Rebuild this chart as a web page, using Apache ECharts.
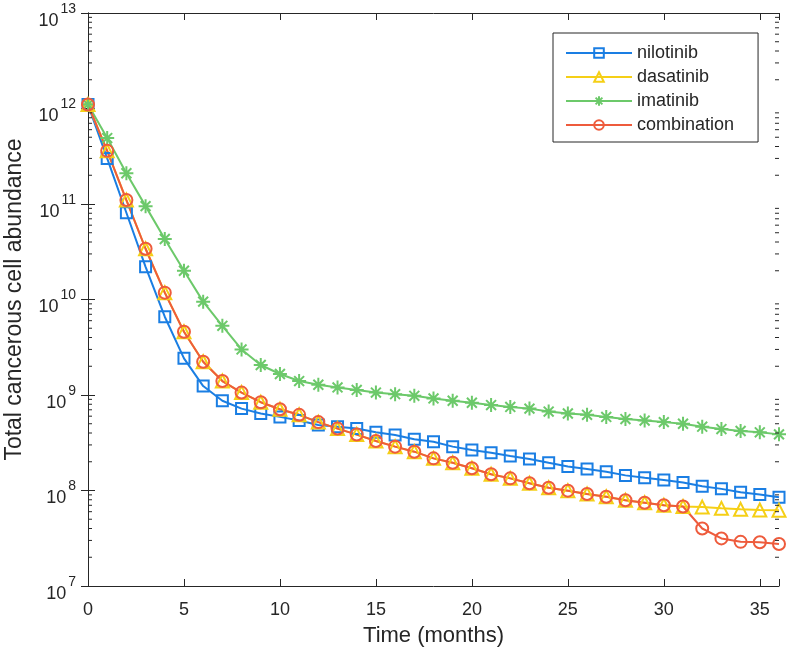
<!DOCTYPE html>
<html>
<head>
<meta charset="utf-8">
<script src="https://cdn.jsdelivr.net/npm/echarts@6/dist/echarts.min.js"></script>
<style>html,body{margin:0;padding:0;background:#fff}#chart{width:792px;height:652px}</style>
</head>
<body>
<div id="chart"></div>
<script>
var months = [0,1,2,3,4,5,6,7,8,9,10,11,12,13,14,15,16,17,18,19,20,21,22,23,24,25,26,27,28,29,30,31,32,33,34,35,36];
var nilotinib = [1.1e12,3.0e11,8.1e10,2.2e10,6.6e9,2.42e9,1.24e9,8.7e8,7.2e8,6.4e8,5.9e8,5.4e8,4.85e8,4.66e8,4.45e8,4.07e8,3.81e8,3.44e8,3.24e8,2.88e8,2.66e8,2.49e8,2.30e8,2.14e8,1.95e8,1.78e8,1.68e8,1.57e8,1.44e8,1.36e8,1.29e8,1.21e8,1.11e8,1.04e8,9.6e7,9.1e7,8.5e7];
var dasatinib = [1.1e12,3.6e11,1.1e11,3.4e10,1.18e10,4.6e9,2.23e9,1.40e9,1.06e9,8.4e8,7.1e8,6.2e8,5.2e8,4.45e8,3.85e8,3.3e8,2.88e8,2.55e8,2.17e8,1.95e8,1.71e8,1.48e8,1.34e8,1.19e8,1.07e8,9.96e7,9.2e7,8.6e7,7.9e7,7.45e7,7.0e7,6.8e7,6.7e7,6.5e7,6.35e7,6.25e7,6.2e7];
var imatinib = [1.1e12,4.9e11,2.1e11,9.5e10,4.3e10,2.0e10,9.5e9,5.3e9,3.0e9,2.06e9,1.66e9,1.40e9,1.28e9,1.20e9,1.13e9,1.06e9,1.02e9,9.8e8,9.2e8,8.7e8,8.3e8,7.85e8,7.5e8,7.2e8,6.7e8,6.4e8,6.2e8,5.9e8,5.6e8,5.4e8,5.2e8,5.0e8,4.66e8,4.4e8,4.2e8,4.07e8,3.87e8];
var combination = [1.1e12,3.6e11,1.1e11,3.4e10,1.18e10,4.6e9,2.23e9,1.40e9,1.06e9,8.4e8,7.1e8,6.2e8,5.2e8,4.45e8,3.85e8,3.3e8,2.88e8,2.55e8,2.17e8,1.95e8,1.71e8,1.48e8,1.34e8,1.19e8,1.07e8,9.96e7,9.2e7,8.6e7,7.9e7,7.45e7,7.0e7,6.8e7,4.0e7,3.15e7,2.9e7,2.87e7,2.75e7];
var seriesNames = ['nilotinib','dasatinib','imatinib','combination'];
var xTitle = 'Time (months)';
var yTitle = 'Total cancerous cell abundance';
var minorMultipliers = [2,3,4,5,6,7,8,9];
var decades = [1e7,1e8,1e9,1e10,1e11,1e12];

var FONT = '"Liberation Sans", Arial, Helvetica, sans-serif';
var AX = '#262626';
var colors = ['#1a7ee3','#f5cf16','#6cc96a','#ee5b3c'];
var asterisk = 'path://M0,-10L0,10M-10,0L10,0M-7.07,-7.07L7.07,7.07M-7.07,7.07L7.07,-7.07';
var symbols = ['rect','triangle',asterisk,'circle'];
var symSizes = [11,13,14,12];
var datasets = [nilotinib,dasatinib,imatinib,combination];

function pairs(arr){ return months.map(function(m,i){ return [m, arr[i]]; }); }

var minorVals = [];
decades.forEach(function(d){ minorMultipliers.forEach(function(k){ minorVals.push([0, k*d]); }); });

var series = seriesNames.map(function(n,i){
  return {
    name:n, type:'line', data:pairs(datasets[i]),
    symbol:symbols[i], symbolSize:symSizes[i], showAllSymbol:true,
    lineStyle:{color:colors[i], width:2},
    itemStyle:{color:'rgba(255,255,255,0)', borderColor:colors[i], borderWidth:2},
    emphasis:{disabled:true}, animation:false
  };
});
series.push({
  type:'custom', silent:true, animation:false, z:10,
  data:minorVals,
  renderItem:function(params, api){
    var cs = params.coordSys;
    var y = api.coord([0, api.value(1)])[1];
    var st = {stroke:AX, lineWidth:1};
    return {type:'group', children:[
      {type:'line', shape:{x1:cs.x, y1:y, x2:cs.x+4, y2:y}, style:st},
      {type:'line', shape:{x1:cs.x+cs.width-4, y1:y, x2:cs.x+cs.width, y2:y}, style:st}
    ]};
  }
});

var chart = echarts.init(document.getElementById('chart'), null, {renderer:'canvas'});
chart.setOption({
  backgroundColor:'#fff',
  animation:false,
  textStyle:{fontFamily:FONT},
  grid:{left:88, right:13, top:13, bottom:66, containLabel:false, outerBoundsMode:'none'},
  legend:{
    data:seriesNames, orient:'vertical', left:553, top:33,
    padding:[11,24,8,12], itemGap:6, itemWidth:66, itemHeight:12,
    borderColor:AX, borderWidth:1, backgroundColor:'#fff',
    textStyle:{fontFamily:FONT, fontSize:18, color:AX},
    selectedMode:false
  },
  xAxis:[{
    type:'value', min:0, max:36, interval:5, position:'bottom',
    name:xTitle, nameLocation:'middle', nameGap:39,
    nameTextStyle:{fontFamily:FONT, fontSize:22, color:AX},
    axisLine:{lineStyle:{color:AX, width:1}},
    axisTick:{inside:true, length:7, lineStyle:{color:AX}},
    axisLabel:{fontFamily:FONT, fontSize:18, color:AX, margin:15, formatter:function(v){return v%5===0? String(v):'';}},
    splitLine:{show:false}
  },{
    type:'value', min:0, max:36, interval:5, position:'top',
    axisLine:{lineStyle:{color:AX, width:1}},
    axisTick:{inside:true, length:7, lineStyle:{color:AX}},
    axisLabel:{show:false}, splitLine:{show:false}
  }],
  yAxis:[{
    type:'log', logBase:10, min:1e7, max:1e13, interval:1, position:'left',
    name:yTitle, nameLocation:'middle', nameGap:62, nameRotate:90,
    nameTextStyle:{fontFamily:FONT, fontSize:23, color:AX},
    axisLine:{show:true, lineStyle:{color:AX, width:1}},
    axisTick:{show:true, inside:true, length:7, lineStyle:{color:AX}},
    axisLabel:{margin:12, color:AX, fontFamily:FONT,
      formatter:function(v){ var e=Math.round(Math.log10(v)); return '{b|10}{s|'+e+'}'; },
      rich:{
        b:{fontSize:18, fontFamily:FONT, color:AX, padding:[16,0,0,0]},
        s:{fontSize:14, fontFamily:FONT, color:AX, padding:[0,0,8,2]}
      }
    },
    splitLine:{show:false}
  },{
    type:'log', logBase:10, min:1e7, max:1e13, interval:1, position:'right',
    axisLine:{show:true, lineStyle:{color:AX, width:1}},
    axisTick:{show:true, inside:true, length:7, lineStyle:{color:AX}},
    axisLabel:{show:false}, splitLine:{show:false}
  }],
  series:series
});
</script>
</body>
</html>
